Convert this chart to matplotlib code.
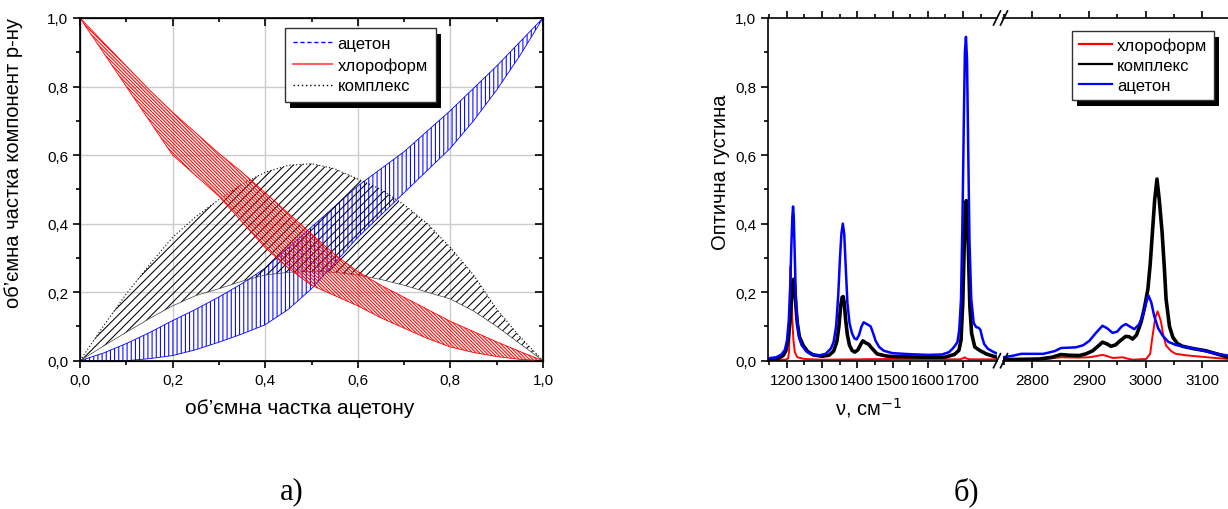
import numpy as np
import matplotlib
matplotlib.use('Agg')
import matplotlib.pyplot as plt
from matplotlib.lines import Line2D
from matplotlib.patches import Rectangle
from matplotlib.transforms import IdentityTransform
from matplotlib.ticker import MultipleLocator, FuncFormatter

plt.rcParams['font.family'] = ['Liberation Sans', 'DejaVu Sans']
plt.rcParams['hatch.linewidth'] = 0.75

# ---- panel a): volume fractions vs acetone fraction (bands: lower/upper bounds)
frac = [0.0, 0.05, 0.1, 0.15, 0.2, 0.25, 0.3, 0.35, 0.4, 0.45, 0.5,
        0.55, 0.6, 0.65, 0.7, 0.75, 0.8, 0.85, 0.9, 0.95, 1.0]
acet_up = [0.0, 0.022, 0.05, 0.082, 0.117, 0.15, 0.186, 0.225, 0.27, 0.33, 0.39,
           0.45, 0.51, 0.56, 0.61, 0.67, 0.73, 0.795, 0.86, 0.93, 1.0]
acet_lo = [0.0, 0.0, 0.0, 0.006, 0.015, 0.032, 0.054, 0.078, 0.105, 0.15, 0.21,
           0.285, 0.36, 0.425, 0.49, 0.555, 0.62, 0.70, 0.79, 0.89, 1.0]
chl_up = [1.0, 0.93, 0.86, 0.79, 0.725, 0.665, 0.605, 0.55, 0.49, 0.43, 0.37,
          0.31, 0.26, 0.22, 0.185, 0.15, 0.115, 0.085, 0.055, 0.027, 0.0]
chl_lo = [1.0, 0.90, 0.80, 0.70, 0.60, 0.54, 0.48, 0.405, 0.33, 0.27, 0.22,
          0.19, 0.16, 0.125, 0.095, 0.065, 0.04, 0.024, 0.012, 0.004, 0.0]
cplx_up = [0.0, 0.10, 0.195, 0.28, 0.36, 0.42, 0.47, 0.515, 0.55, 0.57, 0.575,
           0.56, 0.53, 0.50, 0.455, 0.40, 0.33, 0.25, 0.15, 0.07, 0.0]
cplx_lo = [0.0, 0.042, 0.083, 0.123, 0.16, 0.19, 0.21, 0.232, 0.25, 0.258, 0.26,
           0.258, 0.25, 0.237, 0.22, 0.20, 0.18, 0.145, 0.10, 0.05, 0.0]

# ---- panel б): IR spectra, low and high wavenumber regions
blue_lo_x = [1147, 1170, 1185, 1195, 1201, 1206, 1210, 1213, 1216, 1218, 1220, 1223, 1226,
             1230, 1236, 1242, 1255, 1270, 1290, 1310, 1325, 1333, 1340, 1346, 1351, 1355,
             1359, 1363, 1367, 1372, 1378, 1385, 1392, 1398, 1405, 1412, 1418, 1425, 1432,
             1438, 1445, 1452, 1462, 1475, 1500, 1550, 1600, 1640, 1660, 1670, 1678, 1684,
             1689, 1694, 1698, 1702, 1705, 1708, 1711, 1714, 1718, 1723, 1730, 1737, 1744,
             1749, 1754, 1760, 1770, 1785, 1796]
blue_lo_y = [0.007, 0.010, 0.018, 0.032, 0.06, 0.12, 0.22, 0.33, 0.42, 0.45, 0.42, 0.30, 0.18,
             0.11, 0.065, 0.046, 0.028, 0.019, 0.015, 0.020, 0.035, 0.055, 0.10, 0.19, 0.30, 0.37,
             0.40, 0.37, 0.28, 0.17, 0.11, 0.080, 0.065, 0.062, 0.075, 0.10, 0.112, 0.108, 0.104,
             0.100, 0.080, 0.058, 0.040, 0.029, 0.022, 0.019, 0.017, 0.018, 0.025, 0.035, 0.045, 0.055,
             0.09, 0.18, 0.40, 0.70, 0.90, 0.945, 0.88, 0.65, 0.35, 0.18, 0.11, 0.098, 0.096,
             0.090, 0.068, 0.048, 0.035, 0.026, 0.021]
black_lo_x = [1147, 1175, 1190, 1198, 1204, 1209, 1213, 1217, 1220, 1223, 1226, 1230, 1236,
              1247, 1260, 1275, 1300, 1320, 1333, 1342, 1348, 1353, 1357, 1360, 1363, 1367,
              1372, 1378, 1385, 1393, 1402, 1410, 1416, 1424, 1432, 1440, 1456, 1480, 1500,
              1600, 1647, 1675, 1688, 1694, 1699, 1703, 1706, 1709, 1712, 1715, 1719, 1724,
              1733, 1747, 1765, 1780, 1796]
black_lo_y = [0.004, 0.006, 0.015, 0.03, 0.06, 0.11, 0.17, 0.225, 0.238, 0.21, 0.16, 0.11, 0.07,
              0.044, 0.026, 0.017, 0.013, 0.016, 0.028, 0.055, 0.10, 0.16, 0.185, 0.187, 0.17, 0.12,
              0.075, 0.045, 0.030, 0.025, 0.032, 0.048, 0.058, 0.052, 0.048, 0.038, 0.020, 0.014, 0.012,
              0.010, 0.010, 0.018, 0.030, 0.06, 0.17, 0.33, 0.44, 0.467, 0.43, 0.32, 0.16, 0.08,
              0.040, 0.030, 0.020, 0.015, 0.010]
red_lo_x = [1147, 1195, 1204, 1207, 1209, 1211, 1213, 1216, 1219, 1223, 1230, 1250, 1300,
            1400, 1500, 1600, 1690, 1700, 1705, 1710, 1720, 1796]
red_lo_y = [0.002, 0.003, 0.006, 0.03, 0.15, 0.275, 0.21, 0.12, 0.06, 0.025, 0.010, 0.005, 0.003,
            0.004, 0.005, 0.004, 0.004, 0.007, 0.010, 0.006, 0.004, 0.004]

blue_hi_x = [2749, 2765, 2781, 2800, 2820, 2840, 2851, 2865, 2877, 2890, 2901, 2912, 2924,
             2932, 2942, 2950, 2958, 2965, 2972, 2980, 2988, 2995, 3001, 3005, 3010, 3015,
             3022, 3030, 3040, 3053, 3070, 3089, 3110, 3130, 3145]
blue_hi_y = [0.010, 0.014, 0.020, 0.020, 0.020, 0.028, 0.037, 0.038, 0.039, 0.045, 0.058, 0.080, 0.102,
             0.095, 0.081, 0.085, 0.100, 0.107, 0.100, 0.092, 0.105, 0.131, 0.170, 0.190, 0.170, 0.131,
             0.095, 0.073, 0.055, 0.046, 0.040, 0.034, 0.026, 0.019, 0.015]
black_hi_x = [2749, 2780, 2813, 2835, 2851, 2865, 2883, 2895, 2907, 2916, 2924, 2932, 2939,
              2947, 2955, 2965, 2971, 2977, 2984, 2992, 2998, 3004, 3008, 3012, 3016, 3020,
              3024, 3029, 3033, 3036, 3042, 3048, 3056, 3065, 3085, 3106, 3125, 3145]
black_hi_y = [0.003, 0.004, 0.005, 0.010, 0.018, 0.016, 0.015, 0.020, 0.029, 0.042, 0.054, 0.049, 0.042,
              0.046, 0.058, 0.071, 0.070, 0.063, 0.075, 0.112, 0.155, 0.209, 0.28, 0.375, 0.47, 0.53,
              0.47, 0.375, 0.27, 0.18, 0.10, 0.068, 0.050, 0.042, 0.035, 0.029, 0.020, 0.010]
red_hi_x = [2749, 2800, 2830, 2851, 2880, 2901, 2915, 2924, 2933, 2942, 2952, 2960, 2968,
            2977, 3001, 3008, 3012, 3017, 3021, 3024, 3027, 3031, 3036, 3045, 3053, 3070,
            3089, 3115, 3145]
red_hi_y = [0.002, 0.004, 0.006, 0.010, 0.009, 0.010, 0.014, 0.017, 0.013, 0.008, 0.009, 0.010, 0.006,
            0.003, 0.005, 0.020, 0.070, 0.125, 0.144, 0.130, 0.114, 0.075, 0.044, 0.028, 0.020, 0.016,
            0.013, 0.009, 0.005]

W, H = 1228, 510
fig = plt.figure(figsize=(W / 100, H / 100), dpi=100)


def px_axes(x0, x1, y0, y1):
    # axes from pixel box (top-left origin)
    return fig.add_axes([x0 / W, (H - y1) / H, (x1 - x0) / W, (y1 - y0) / H])


comma = FuncFormatter(lambda v, p: f'{v:.1f}'.replace('.', ','))
TICK_FS = 11

# ================= panel a) =================
ax = px_axes(80, 543, 19, 361.7)
ax.set_xlim(0, 1)
ax.set_ylim(0, 1)
ax.grid(True, color='#cccccc', lw=1.0, zorder=0)
ax.set_axisbelow(True)

ax.fill_between(frac, acet_lo, acet_up, facecolor='none', edgecolor='#0000ff',
                hatch='||||', lw=0, zorder=2)
ax.plot(frac, acet_up, color='#0000ff', lw=0.6, zorder=2)
ax.plot(frac, acet_lo, color='#0000ff', lw=0.6, zorder=2)

ax.fill_between(frac, cplx_lo, cplx_up, facecolor='none', edgecolor='black',
                hatch='////', lw=0, zorder=2)
ax.plot(frac, cplx_up, color='black', lw=0.8, ls=(0, (1, 2)), zorder=2)
ax.plot(frac, cplx_lo, color='#444444', lw=0.5, zorder=2)

ax.fill_between(frac, chl_lo, chl_up, facecolor='none', edgecolor='#ff0000',
                hatch='\\' * 10, lw=0, zorder=3)
ax.plot(frac, chl_up, color='#ff0000', lw=0.6, zorder=3)
ax.plot(frac, chl_lo, color='#ff0000', lw=0.6, zorder=3)

ax.xaxis.set_major_locator(MultipleLocator(0.2))
ax.xaxis.set_minor_locator(MultipleLocator(0.1))
ax.yaxis.set_major_locator(MultipleLocator(0.2))
ax.yaxis.set_minor_locator(MultipleLocator(0.1))
ax.xaxis.set_major_formatter(comma)
ax.yaxis.set_major_formatter(comma)
ax.tick_params(which='both', direction='out', top=False, right=False, labelsize=TICK_FS, width=1.2)
ax.tick_params(which='major', length=5)
ax.tick_params(which='minor', length=3)
for s in ax.spines.values():
    s.set_linewidth(1.2)

# inward ticks on top / right
axt = ax.twiny()
axt.set_xlim(0, 1)
axt.xaxis.set_major_locator(MultipleLocator(0.2))
axt.xaxis.set_minor_locator(MultipleLocator(0.1))
axt.tick_params(which='both', direction='in', labeltop=False, width=1.2)
axt.tick_params(which='major', length=6)
axt.tick_params(which='minor', length=3)
axr = ax.twinx()
axr.set_ylim(0, 1)
axr.yaxis.set_major_locator(MultipleLocator(0.2))
axr.yaxis.set_minor_locator(MultipleLocator(0.1))
axr.tick_params(which='both', direction='in', labelright=False, width=1.2)
axr.tick_params(which='major', length=6)
axr.tick_params(which='minor', length=3)

h_a = [Line2D([], [], color='#0000ff', lw=1, ls=(0, (3, 2))),
       Line2D([], [], color='#ff6060', lw=1.5),
       Line2D([], [], color='black', lw=1, ls=(0, (1, 2)))]
leg_a = axr.legend(h_a, ['ацетон', 'хлороформ', 'комплекс'], loc='upper left',
                   bbox_to_anchor=(0.443, 0.971), borderaxespad=0, fontsize=12,
                   fancybox=False, framealpha=1, edgecolor='#333333', handlelength=2.3,
                   labelspacing=0.35, borderpad=0.5, handletextpad=0.35)
leg_a.get_frame().set_linewidth(1.0)

fig.text(300 / W, 1 - 408 / H, 'об’ємна частка ацетону', ha='center', va='center', fontsize=15)
fig.text(14 / W, 1 - 163 / H, 'об’ємна частка компонент р-ну', ha='center', va='center',
         rotation=90, fontsize=14.5)

# ================= panel б) broken x axis =================
ax1 = px_axes(768, 997, 19, 361.7)
ax2 = px_axes(1003, 1228, 19, 361.7)
ax1.set_xlim(1147, 1796)
ax2.set_xlim(2749, 3145)
for a in (ax1, ax2):
    a.set_ylim(0, 1)
    a.xaxis.set_major_locator(MultipleLocator(100))
    a.xaxis.set_minor_locator(MultipleLocator(50))
    a.tick_params(which='both', direction='out', top=True, labeltop=False,
                  labelsize=TICK_FS, width=1.2)
    a.tick_params(which='major', length=5)
    a.tick_params(which='minor', length=3)
    for s in a.spines.values():
        s.set_linewidth(1.2)
    a.spines['right'].set_visible(False)

ax1.yaxis.set_major_locator(MultipleLocator(0.2))
ax1.yaxis.set_minor_locator(MultipleLocator(0.1))
ax1.yaxis.set_major_formatter(comma)
ax2.spines['left'].set_visible(False)
ax2.tick_params(axis='y', which='both', left=False, labelleft=False)

ax1.plot(red_lo_x, red_lo_y, color='#ff0000', lw=1.4)
ax1.plot(black_lo_x, black_lo_y, color='black', lw=2.6)
ax1.plot(blue_lo_x, blue_lo_y, color='#0000ff', lw=1.8)
ax2.plot(red_hi_x, red_hi_y, color='#ff0000', lw=1.4, label='хлороформ')
ax2.plot(black_hi_x, black_hi_y, color='black', lw=2.6, label='комплекс')
ax2.plot(blue_hi_x, blue_hi_y, color='#0000ff', lw=1.8, label='ацетон')

leg_b = ax2.legend(loc='upper left', bbox_to_anchor=(0.307, 0.962), borderaxespad=0,
                   fontsize=12, fancybox=False, framealpha=1, edgecolor='#333333',
                   handlelength=2.0, labelspacing=0.3, borderpad=0.4, handletextpad=0.3)
leg_b.get_frame().set_linewidth(1.0)
for ln in leg_b.get_lines():
    ln.set_linewidth(1.6)

# break marks on the top and bottom spines
for yb in (19, 361.7):
    for xc in (997, 1004):
        fig.add_artist(Line2D([(xc - 3.5) / W, (xc + 3.5) / W],
                              [1 - (yb + 7) / H, 1 - (yb - 7) / H],
                              color='black', lw=1.2))

fig.text(720 / W, 1 - 172 / H, 'Оптична густина', ha='center', va='center',
         rotation=90, fontsize=14.5)
fig.text(868 / W, 1 - 408 / H, r'ν, см$^{-1}$', ha='center', va='center', fontsize=14.5)

fig.text(292 / W, 1 - 492 / H, 'а)', ha='center', va='center', fontsize=22,
         family=['Liberation Serif', 'DejaVu Serif'])
fig.text(966 / W, 1 - 492 / H, 'б)', ha='center', va='center', fontsize=22,
         family=['Liberation Serif', 'DejaVu Serif'])

# black drop shadows behind legends
fig.canvas.draw()
for host, leg in ((axr, leg_a), (ax2, leg_b)):
    bb = leg.get_frame().get_window_extent()
    sh = Rectangle((bb.x0 + 5, bb.y0 - 6), bb.width, bb.height, transform=IdentityTransform(),
                   facecolor='black', edgecolor='none', zorder=leg.get_zorder() - 0.1,
                   clip_on=False)
    host.add_artist(sh)

fig.savefig('out.png', dpi=100)
